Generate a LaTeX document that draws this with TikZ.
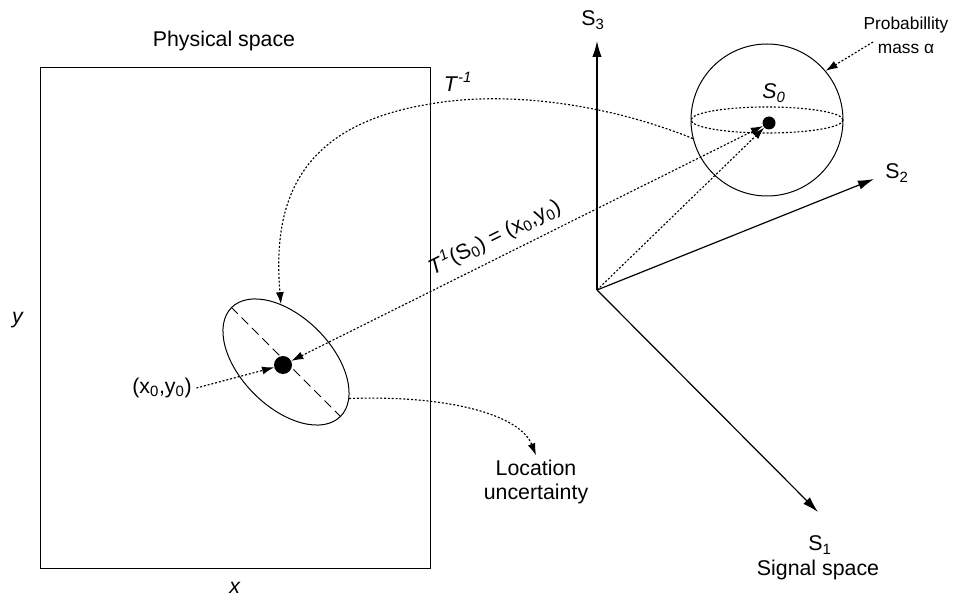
\documentclass[tikz,border=0pt]{standalone}
\usepackage{fontspec}
\setmainfont{Liberation Sans}
\usetikzlibrary{arrows.meta,shapes.geometric}

\begin{document}
\begin{tikzpicture}[
    x=0.75pt,y=-0.75pt,
    font=\fontsize{16}{18}\selectfont,
    axis/.style={-{Latex[length=12pt,width=7pt]},line width=0.9pt},
    dots/.style={line width=0.85pt,dash pattern=on 1.5pt off 1.4pt},
    darrow/.style={dots,-{Latex[length=9pt,width=6pt]}},
    blob/.style={circle,fill=black,inner sep=0pt}
]
    \useasboundingbox (0,0) rectangle (961,599);

    % physical space
    \draw[line width=0.75pt] (40,68) rectangle (430,568);
    \node (phys) at (224,41) {Physical space};
    \node (ylbl) at (18,320) {\textit{y}};
    \node (xlbl) at (235,588) {\textit{x}};
    \node[draw,ellipse,line width=0.75pt,rotate=-45,inner sep=0pt,minimum width=115.5pt,minimum height=67.5pt] (ell) at (286,362) {};
    \draw[line width=0.75pt,dash pattern=on 7pt off 4pt] (ell.west) -- (ell.east);
    \node[blob,minimum size=13.5pt] (pdot) at (283,365) {};
    \node (xy0) at (162,388) {(x\textsubscript{0},y\textsubscript{0})};
    \node[align=center] (loc) at (536,482) {Location\\uncertainty};

    % signal space
    \coordinate (O) at (597,290);
    \coordinate (s3end) at (597,41);
    \coordinate (s2end) at (874,179);
    \coordinate (s1end) at (818,512);
    \draw[axis] (O) -- (s3end);
    \draw[axis] (O) -- (s2end);
    \draw[axis] (O) -- (s1end);
    \node (s3lbl) at (593,20) {S\textsubscript{3}};
    \node (s2lbl) at (897,173) {S\textsubscript{2}};
    \node (s1lbl) at (820,545) {S\textsubscript{1}};
    \node (sig) at (818,570) {Signal space};

    \node[draw,circle,line width=0.75pt,inner sep=0pt,minimum size=114pt] (sphere) at (767,120) {};
    \draw[dots] (sphere.center) ellipse (76 and 13);
    \node[blob,minimum size=9.75pt] (sdot) at (769,123) {};
    \node (s0lbl) at (774,93) {\textit{S}\textsubscript{\textit{0}}};
    \node[align=center,font=\fontsize{13}{18}\selectfont] (prob) at (906,35) {Probabillity\\mass α};
    \coordinate (pm) at (873,42);
    \node (tinv) at (458,82) {\textit{T}\textsuperscript{\textit{-1}}};

    % mappings
    \draw[darrow] (sphere.194) .. controls (610,105) and (510,90) .. (430,104)
        .. controls (300,125) and (272,200) .. (ell.140);
    \draw[dots,{Latex[length=9pt,width=6pt]}-{Latex[length=9pt,width=6pt]}] (pdot) -- node[pos=0.45,sloped,above=3pt]
        {\textit{T}\textsuperscript{\textit{1}}(S\textsubscript{0}) = (x\textsubscript{0},y\textsubscript{0})} (sdot);
    \draw[darrow] (O) -- (sdot);
    \draw[darrow] (xy0.east) -- (pdot);
    \draw[darrow] (pm) -- (sphere.40);
    \draw[darrow] (ell.15) .. controls (450,395) and (520,415) .. (loc.north);
\end{tikzpicture}
\end{document}
